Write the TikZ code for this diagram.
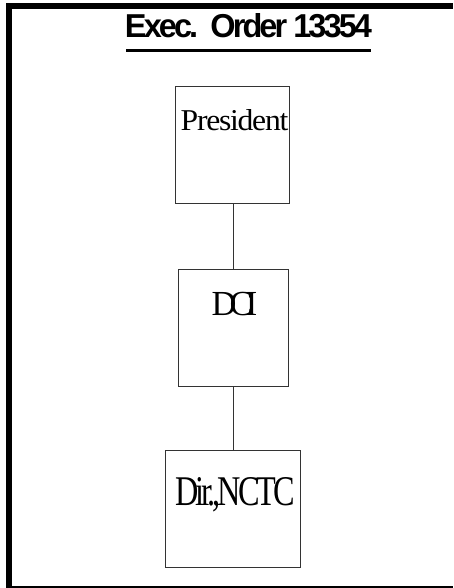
\documentclass[tikz,border=0pt]{standalone}
\usepackage{fontspec}
\setmainfont{Liberation Serif}
\newfontfamily\titlefont{Liberation Sans}
\newcommand\fitbox[4]{\resizebox{#1}{#2}{\addfontfeature{LetterSpace=#3}#4}}
\begin{document}
\begin{tikzpicture}[x=1pt,y=-1pt,
  orgbox/.style={draw=black!80,line width=1pt,fill=white},
  orgtext/.style={anchor=base,inner sep=0pt,text=black},
  link/.style={draw=black!80,line width=1pt}]
\useasboundingbox (0,0) rectangle (453,588);
% frame
\fill[black] (6,3) rectangle (453,9);
\fill[black] (6,3) rectangle (12,587.5);
\draw[line width=1.3pt] (6,587) -- (453,587);
% title
\node[orgtext] (title) at (248.5,38) {\titlefont\bfseries\fitbox{247pt}{24pt}{-9}{Exec.\ \ Order 13354}};
\draw[line width=2.4pt] (126,50.5) -- (371,50.5);
% boxes
\path[orgbox] (175.7,86.7) rectangle (289,203.3);
\node[inner sep=0pt,minimum width=113.3pt,minimum height=116.6pt] (pres) at (232.35,145) {};
\path[orgbox] (178.3,269) rectangle (288.7,386);
\node[inner sep=0pt,minimum width=110.4pt,minimum height=117pt] (dci) at (233.5,327.5) {};
\path[orgbox] (165.5,450.7) rectangle (300.5,567.5);
\node[inner sep=0pt,minimum width=135pt,minimum height=116.8pt] (nctc) at (233,509.1) {};
% texts
\node[orgtext] (prest) at (234.5,130.5) {\fitbox{107.6pt}{21pt}{-4}{President}};
\node[orgtext] (dcit) at (234.5,315) {\fitbox{45.6pt}{23.3pt}{-20}{DCI}};
\node[orgtext] (nctct) at (235.2,505) {\fitbox{120.3pt}{28pt}{-9}{Dir.,NCTC}};
% connectors
\draw[link] (233,203.3) coordinate (c1) -- (233,269) coordinate (c2);
\draw[link] (233,386) coordinate (c3) -- (233,450.7) coordinate (c4);
\end{tikzpicture}
\end{document}
